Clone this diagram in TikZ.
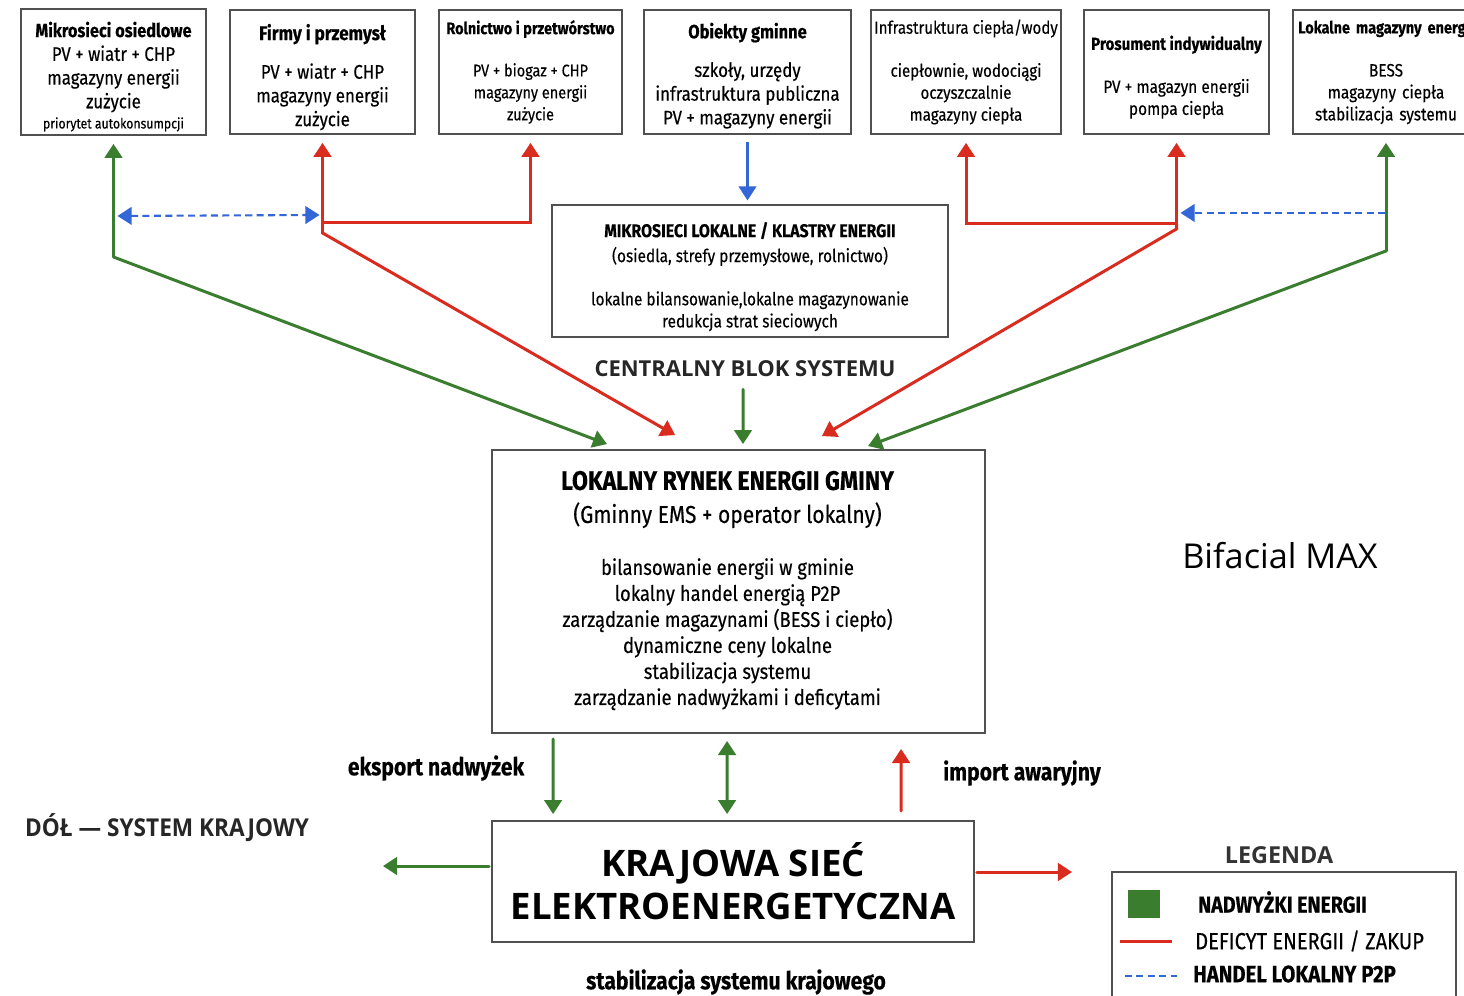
\documentclass[tikz,border=0pt]{standalone}
\usepackage{fontspec}
\newfontfamily\condfont{Fira Sans}[FakeStretch=0.86, FakeBold=0.3]
\newfontfamily\opensans{Open Sans}
\newfontfamily\opensanscond{Open Sans}[FakeStretch=0.92]
\usetikzlibrary{arrows.meta, calc}
\definecolor{surplusgreen}{HTML}{3B7D2F}
\definecolor{deficitred}{HTML}{D92B1E}
\definecolor{tradeblue}{HTML}{3366D6}
\definecolor{boxgray}{HTML}{505050}

\begin{document}
\begin{tikzpicture}[
    x=0.02cm, y=-0.02cm,
    >={Triangle[length=8pt,width=10pt]},
    sector/.style={rectangle, draw=boxgray, line width=1.1pt, fill=white, minimum width=3.7cm, minimum height=2.48cm, align=center, inner sep=2pt, font=\condfont\fontsize{11.2}{13.5}\selectfont},
    bigbox/.style={rectangle, draw=boxgray, line width=1.1pt, align=center},
    tag/.style={font=\condfont\bfseries\fontsize{14}{16}\selectfont},
    legtext/.style={anchor=west, font=\condfont\fontsize{13.3}{15}\selectfont},
    surplus/.style={draw=surplusgreen, line width=1.7pt, line cap=round, ->},
    deficit/.style={draw=deficitred, line width=1.7pt, line cap=round, ->},
    p2p/.style={draw=tradeblue, line width=1.2pt, dash pattern=on 4pt off 2.5pt, ->}
]
    \fill[white] (0,0) rectangle (1464,995);
    \useasboundingbox (0,0) rectangle (1464,995);

    % sectors
    \node[sector] (osiedla) at (113.5,72) {\rule{0pt}{14pt}{\bfseries\fontsize{10.8}{13}\selectfont Mikrosieci osiedlowe}\\ PV + wiatr + CHP\\ magazyny energii\\ zużycie\\[-2pt] {\fontsize{8.1}{10}\selectfont priorytet autokonsumpcji}};
    \node[sector] (firmy) at (322.5,72) {\rule{0pt}{15pt}{\bfseries\fontsize{11.3}{13}\selectfont Firmy i przemysł}\\[8.5pt] PV + wiatr + CHP\\ magazyny energii\\ zużycie};
    \node[sector, minimum width=3.66cm, font=\condfont\fontsize{9.6}{12.5}\selectfont] (rolnictwo) at (530.5,72) {{\bfseries\fontsize{9.6}{12}\selectfont Rolnictwo i przetwórstwo}\\[11.5pt] PV + biogaz + CHP\\ magazyny energii\\ zużycie};
    \node[sector, minimum width=4.14cm] (gminne) at (747.5,72) {\rule{0pt}{13pt}{\bfseries\fontsize{10.9}{13}\selectfont Obiekty gminne}\\[8.5pt] szkoły, urzędy\\ infrastruktura publiczna\\ PV + magazyny energii};
    \node[sector, minimum width=3.76cm, font=\condfont\fontsize{10}{12.5}\selectfont] (infra) at (966,72) {Infrastruktura ciepła/wody\\[12pt] ciepłownie, wodociągi\\ oczyszczalnie\\ magazyny ciepła};
    \node[sector, font=\condfont\fontsize{10.2}{12.5}\selectfont] (prosument) at (1176.5,72) {\rule{0pt}{14pt}{\bfseries\fontsize{10}{12}\selectfont Prosument indywidualny}\\[12pt] PV + magazyn energii\\ pompa ciepła};
    \node[sector, minimum width=3.72cm, text width=3.55cm, font=\condfont\fontsize{10.2}{12.5}\selectfont] (magazyny) at (1386,72) {\mbox{\bfseries\fontsize{9.6}{12}\selectfont Lokalne magazyny energii}\\[12pt] BESS\\ magazyny ciepła\\ stabilizacja systemu};

    \node[bigbox, minimum width=7.92cm, minimum height=2.56cm, font=\condfont\fontsize{10.2}{12.6}\selectfont] (klastry) at (750,271) {\rule{0pt}{15pt}{\bfseries\fontsize{10.5}{12}\selectfont MIKROSIECI LOKALNE / KLASTRY ENERGII}\\[1.6pt] (osiedla, strefy przemysłowe, rolnictwo)\\[12pt] lokalne bilansowanie,lokalne magazynowanie\\ redukcja strat sieciowych};

    \node[font=\opensans\bfseries\fontsize{12.5}{15}\selectfont, text=black!85] (centralny) at (745,369) {CENTRALNY BLOK SYSTEMU};

    \node[bigbox, minimum width=9.86cm, minimum height=5.66cm] (rynek) at (738.5,591.5) {};
    \node[align=center, font=\condfont\fontsize{12.2}{14.8}\selectfont] (rynektext) at ($(rynek.center)+(-11,-1)$) {{\bfseries\fontsize{15.3}{18}\selectfont LOKALNY RYNEK ENERGII GMINY}\\[4pt] {\fontsize{13.9}{16}\selectfont (Gminny EMS + operator lokalny)}\\[14.8pt] bilansowanie energii w gminie\\ lokalny handel energią P2P\\ zarządzanie magazynami (BESS i ciepło)\\ dynamiczne ceny lokalne\\ stabilizacja systemu\\ zarządzanie nadwyżkami i deficytami};

    \node[bigbox, minimum width=9.64cm, minimum height=2.42cm, font=\opensans\bfseries\fontsize{20.8}{24.5}\selectfont] (krajowa) at (733,881.5) {KRAJOWA SIEĆ\\ ELEKTROENERGETYCZNA};

    \node[font=\opensans\fontsize{19.5}{22}\selectfont] (brand) at (1280,556) {Bifacial MAX};
    \node[anchor=west, font=\opensanscond\bfseries\fontsize{14}{16}\selectfont, text=black!85] (dol) at (19,828) {DÓŁ — SYSTEM KRAJOWY};
    \node[tag] (eksport) at (436,768) {eksport nadwyżek};
    \node[tag] (import) at (1022,773) {import awaryjny};
    \node[tag] (stabkraj) at (736,982) {stabilizacja systemu krajowego};

    % flows to the local market
    \coordinate (in1) at ($(rynek.north)+(-131.5,-5)$);
    \coordinate (in2) at ($(rynek.north)+(-63.5,-14)$);
    \coordinate (in4) at ($(rynek.north)+(83.5,-13)$);
    \coordinate (in5) at ($(rynek.north)+(129.5,-3)$);

    \coordinate (k1) at ($(osiedla.south)+(0,121)$);
    \draw[surplus, shorten >=4.5pt] (k1) -- (osiedla.south);
    \draw[surplus] (k1) -- (in1);

    \coordinate (j2) at ($(firmy.south)+(0,88)$);
    \draw[deficit, shorten >=4.5pt] (j2) -- (firmy.south);
    \draw[deficit, shorten >=4.5pt] (j2) -| (rolnictwo.south);
    \draw[deficit] (j2) -- ++(0,10) -- (in2);

    \coordinate (j6) at ($(prosument.south)+(0,89)$);
    \draw[deficit, shorten >=4.5pt] (j6) -- (prosument.south);
    \draw[deficit, shorten >=4.5pt] (j6) -| (infra.south);
    \draw[deficit] (j6) -- ++(0,5) -- (in4);

    \coordinate (k7) at ($(magazyny.south)+(0,116)$);
    \draw[surplus, shorten >=4.5pt] (k7) -- (magazyny.south);
    \draw[surplus] (k7) -- (in5);

    % local P2P trade
    \draw[p2p, <->] ($(osiedla.south)+(4,80)$) -- ($(firmy.south)+(-3,80)$);
    \draw[p2p] ($(magazyny.south)+(-1,78)$) -- ($(prosument.south)+(4,78)$);
    \draw[draw=tradeblue, line width=1.3pt, ->, shorten <=4pt, shorten >=2pt] (gminne.south) -- (gminne.south |- klastry.north);

    \draw[surplus] ($(centralny.south)+(-2,6)$) -- ($(rynek.north)+(4.5,-5)$);

    % national grid
    \draw[surplus] ($(rynek.south west)+(62,5)$) -- ($(krajowa.north west)+(62,-6)$);
    \draw[surplus, <->] ($(rynek.south west)+(236,7)$) -- ($(krajowa.north west)+(236,-6)$);
    \draw[deficit] ($(krajowa.north west)+(410,-9)$) -- ($(rynek.south west)+(410,15)$);
    \coordinate (toWest) at (383,866);
    \coordinate (toEast) at (1072,872);
    \draw[surplus] ($(krajowa.west)+(-2,-15.5)$) -- (toWest);
    \draw[deficit] ($(krajowa.east)+(2,-9.5)$) -- (toEast);

    % legend
    \node[font=\opensans\bfseries\fontsize{13.3}{15}\selectfont, text=black!80] (legtitle) at (1279,855) {LEGENDA};
    \node[bigbox, minimum width=6.88cm, minimum height=2.76cm] (legend) at (1284,941) {};
    \fill[surplusgreen] (1128,890) rectangle (1160,918);
    \draw[deficitred, line width=1.7pt] (1120,941) -- (1172,941);
    \draw[tradeblue, line width=1.2pt, dash pattern=on 4pt off 2.5pt] (1125,976) -- (1177,976);
    \node[legtext, font=\condfont\bfseries\fontsize{13}{15}\selectfont] (legsurplus) at (1192,902) {NADWYŻKI ENERGII};
    \node[legtext] (legdeficit) at (1189,941) {DEFICYT ENERGII / ZAKUP};
    \node[legtext, font=\condfont\bfseries\fontsize{13.5}{15}\selectfont] (legtrade) at (1187,974) {HANDEL LOKALNY P2P};
\end{tikzpicture}
\end{document}
